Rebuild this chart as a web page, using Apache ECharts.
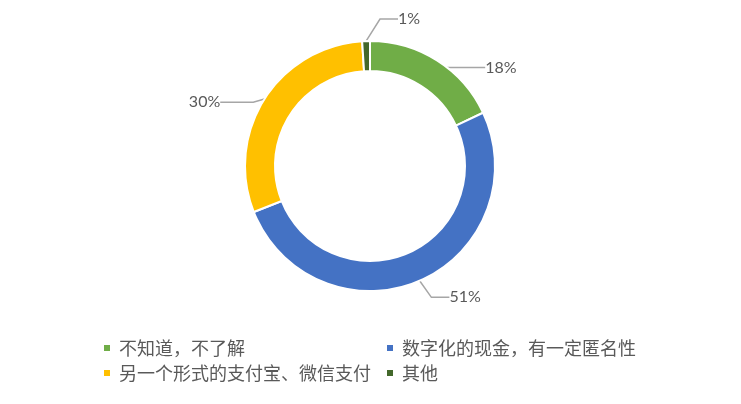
<!DOCTYPE html>
<html>
<head>
<meta charset="utf-8">
<script src="https://cdn.jsdelivr.net/npm/echarts@6/dist/echarts.min.js"></script>
<style>
html,body{margin:0;padding:0;background:#fff;}
#main{width:741px;height:404px;}
</style>
</head>
<body>
<div id="main"></div>
<script>
const categories = ['不知道，不了解', '数字化的现金，有一定匿名性', '另一个形式的支付宝、微信支付', '其他'];
const values = [18, 51, 30, 1];
const colors = ['#70ad47', '#4472c4', '#ffc000', '#43682b'];
const legendLeftCol = ['不知道，不了解', '另一个形式的支付宝、微信支付'];
const legendRightCol = ['数字化的现金，有一定匿名性', '其他'];

// label nudges relative to ECharts' default outside label placement
const labelNudge = [[0, 12], [0, 1], [-2, 6], [0, 0]];
const lineLen = [[6, 40], [17, 18], [5, 33], [20, 18]];

const chart = echarts.init(document.getElementById('main'));
const legendText = { fontSize: 18, color: '#595959', fontFamily: '"Noto Sans CJK SC", sans-serif', padding: [0, 0, 0, 3] };

chart.setOption({
  animation: false,
  backgroundColor: '#ffffff',
  color: colors,
  legend: [
    { data: legendLeftCol, orient: 'vertical', left: 97, top: 334, itemGap: 7, itemWidth: 8, itemHeight: 8, icon: 'rect', textStyle: legendText },
    { data: legendRightCol, orient: 'vertical', left: 380, top: 334, itemGap: 7, itemWidth: 8, itemHeight: 8, icon: 'rect', textStyle: legendText }
  ],
  series: [{
    type: 'pie',
    center: [370, 166],
    radius: [95, 125],
    startAngle: 90,
    clockwise: true,
    avoidLabelOverlap: false,
    itemStyle: { borderColor: '#ffffff', borderWidth: 2 },
    label: {
      show: true,
      position: 'outside',
      formatter: '{c}%',
      fontSize: 16,
      fontFamily: 'Lato, "Open Sans", sans-serif',
      color: '#595959',
      distanceToLabelLine: 5
    },
    labelLine: { show: true, lineStyle: { color: '#a6a6a6', width: 1.5 } },
    labelLayout: function (p) {
      const i = p.dataIndex;
      if (i === 3) {
        return {
          x: p.rect.x + p.rect.width + 27,
          y: p.rect.y - 21,
          align: 'left',
          verticalAlign: 'middle'
        };
      }
      return {
        x: p.labelRect.x + labelNudge[i][0],
        y: p.labelRect.y + p.labelRect.height / 2 + labelNudge[i][1],
        align: 'left',
        verticalAlign: 'middle'
      };
    },
    data: categories.map(function (c, i) {
      return {
        name: c,
        value: values[i],
        labelLine: { length: lineLen[i][0], length2: lineLen[i][1] }
      };
    })
  }]
});
</script>
</body>
</html>
